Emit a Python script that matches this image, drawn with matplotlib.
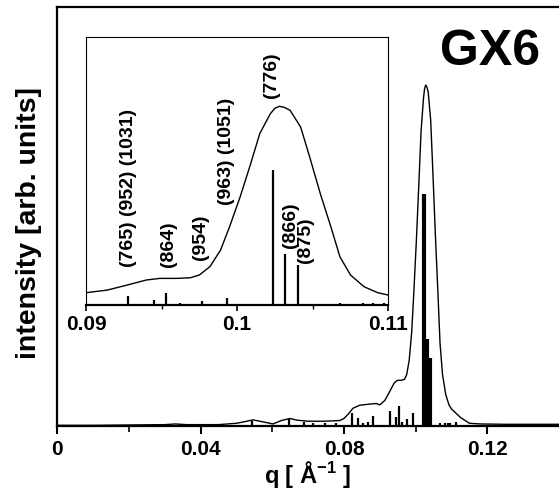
import numpy as np
import matplotlib
matplotlib.use('Agg')
import matplotlib.pyplot as plt

plt.rcParams['font.family'] = ['Liberation Sans', 'DejaVu Sans']
plt.rcParams['font.weight'] = 'bold'
plt.rcParams['mathtext.fontset'] = 'custom'
plt.rcParams['mathtext.rm'] = 'Liberation Sans:bold'
plt.rcParams['mathtext.bf'] = 'Liberation Sans:bold'

# measured SAXS profile (normalised to the main peak)
q_curve = [0.000, 0.010, 0.020, 0.030, 0.033, 0.036, 0.045, 0.050, 0.052, 0.0546,
           0.057, 0.0602, 0.0625, 0.0649, 0.067, 0.070, 0.0745, 0.0788, 0.0800, 0.0812,
           0.0825, 0.0844, 0.0870, 0.0890, 0.0900, 0.0914, 0.0927, 0.0940, 0.0949, 0.0960,
           0.0969, 0.0975, 0.0982, 0.0989, 0.0995, 0.1002, 0.1009, 0.1015, 0.1022, 0.1025,
           0.1028, 0.1031, 0.1035, 0.1042, 0.1048, 0.1055, 0.1062, 0.1068, 0.1075, 0.1084,
           0.1093, 0.1100, 0.1110, 0.1125, 0.1150, 0.1180, 0.1250, 0.1300, 0.1400]
i_curve = [0.002, 0.002, 0.003, 0.004, 0.006, 0.004, 0.004, 0.008, 0.012, 0.018,
           0.013, 0.006, 0.016, 0.022, 0.017, 0.014, 0.014, 0.016, 0.022, 0.035,
           0.052, 0.061, 0.064, 0.066, 0.062, 0.075, 0.100, 0.126, 0.134, 0.134,
           0.137, 0.151, 0.193, 0.276, 0.394, 0.544, 0.712, 0.863, 0.963, 0.990,
           1.000, 0.995, 0.980, 0.896, 0.745, 0.561, 0.394, 0.243, 0.151, 0.092,
           0.062, 0.050, 0.040, 0.025, 0.008, 0.006, 0.005, 0.005, 0.005]

# calculated reflections
q_peaks = [0.0542, 0.0647, 0.0689, 0.0714, 0.0746, 0.0779, 0.0821, 0.0839, 0.0853, 0.0867,
           0.0881, 0.0928, 0.0945, 0.0953, 0.0962, 0.0977, 0.0993, 0.1024, 0.1032, 0.1040,
           0.1068, 0.1083, 0.1090, 0.1097, 0.1112]
i_peaks = [0.015, 0.020, 0.012, 0.010, 0.009, 0.009, 0.037, 0.023, 0.009, 0.012,
           0.029, 0.045, 0.027, 0.060, 0.012, 0.022, 0.037, 0.680, 0.256, 0.200,
           0.010, 0.010, 0.010, 0.010, 0.012]

# Miller index labels in the inset
hkl_labels = ['(765) (952) (1031)', '(864)', '(954)', '(963) (1051)', '(776)', '(866)', '(875)']
hkl_q = [0.0928, 0.09545, 0.09755, 0.0993, 0.1023, 0.1035, 0.1045]
hkl_y = [0.191, 0.191, 0.226, 0.503, 1.040, 0.286, 0.211]

fig = plt.figure(figsize=(5.59, 4.93), dpi=100)
ax = fig.add_axes([0.1025, 0.1359, 0.8975, 0.8499])

ax.plot(q_curve, i_curve, color='black', lw=1.0)
lw_main = [3.0 if v > 0.1 else 1.6 for v in i_peaks]
ax.vlines(q_peaks, 0, i_peaks, colors='black', linewidths=lw_main)

ax.set_xlim(0, 0.14)
ax.set_ylim(0, 1.229)
ax.set_xticks([0, 0.04, 0.08, 0.12])
ax.set_xticklabels(['0', '0.04', '0.08', '0.12'])
ax.set_xticks([0.02, 0.06, 0.10], minor=True)
ax.set_yticks([])
ax.tick_params(axis='x', which='major', direction='out', length=6, width=1.5,
               labelsize=15, pad=4)
ax.tick_params(axis='x', which='minor', direction='out', length=4, width=1.2)
for s in ax.spines.values():
    s.set_linewidth(1.6)
ax.spines['right'].set_visible(False)
ax.set_xlabel(r'q [ Å$^{\mathbf{-1}}$ ]', fontsize=17, fontweight='bold', labelpad=0)
ax.set_ylabel('intensity [arb. units]', fontsize=20.5, fontweight='bold')
ax.yaxis.set_label_coords(-0.03, 0.485)

fig.text(0.966, 0.868, 'GX6', fontsize=36, fontweight='bold', ha='right', va='baseline')

# zoom on the main reflection
ins = fig.add_axes([0.1538, 0.3813, 0.5408, 0.543])
ins.plot(q_curve, i_curve, color='black', lw=1.0)
ins.vlines(q_peaks, 0, i_peaks, colors='black', linewidths=1.6)
ins.set_xlim(0.09, 0.11)
ins.set_ylim(0, 1.347)
ins.set_xticks([0.09, 0.1, 0.11])
ins.set_xticklabels(['0.09', '0.1', '0.11'])
ins.set_xticks([0.095, 0.105], minor=True)
ins.set_yticks([])
ins.tick_params(axis='x', which='major', direction='out', length=4, width=1.2,
                labelsize=15, pad=3)
ins.tick_params(axis='x', which='minor', direction='out', length=3, width=1.0)
for side in ['left', 'top', 'right']:
    ins.spines[side].set_linewidth(0.8)
ins.spines['bottom'].set_linewidth(1.6)

for txt, xq, yv in zip(hkl_labels, hkl_q, hkl_y):
    ins.text(xq, yv, txt, rotation=90, ha='center', va='bottom',
             fontsize=14, fontweight='bold')

fig.savefig('out.png', dpi=100)
